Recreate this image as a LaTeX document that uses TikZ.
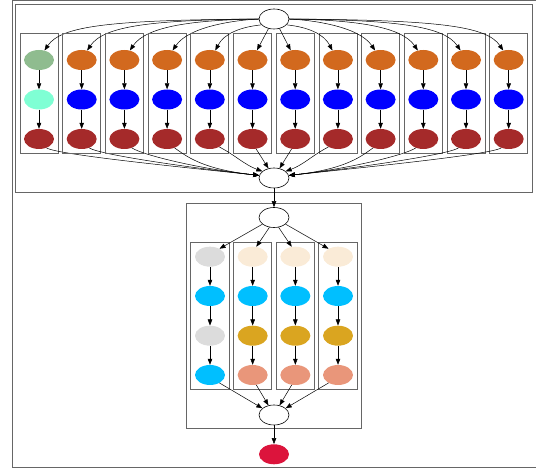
\documentclass[tikz,border=0pt]{standalone}
\usetikzlibrary{shapes.geometric,arrows.meta}
\definecolor{darkseagreen}{HTML}{8FBC8F}
\definecolor{aquamarine}{HTML}{7FFFD4}
\definecolor{firebrick}{HTML}{A52A2A}
\definecolor{chocolate}{HTML}{D2691E}
\definecolor{pureblue}{HTML}{0000FF}
\definecolor{gainsboro}{HTML}{DCDCDC}
\definecolor{deepskyblue}{HTML}{00BFFF}
\definecolor{antiquewhite}{HTML}{FAEBD7}
\definecolor{goldenrod}{HTML}{DAA520}
\definecolor{darksalmon}{HTML}{E9967A}
\definecolor{crimson}{HTML}{DC143C}
\begin{document}
\begin{tikzpicture}[x=1pt,y=-1pt,
  dot/.style={ellipse,minimum width=30pt,minimum height=20pt,inner sep=0pt,draw=none},
  hub/.style={ellipse,minimum width=30pt,minimum height=20pt,inner sep=0pt,draw=black,line width=0.6pt,fill=white},
  edge/.style={line width=0.5pt,-{Triangle[length=6pt,width=4.5pt]}},
  frame/.style={draw=black!60,line width=0.8pt}]
\useasboundingbox (0,0) rectangle (536,470);
% outer graph frame and first cluster
\draw[frame] (12,0.5) rectangle (540,467);
\draw[frame] (15,4.7) rectangle (532,192);
\node[hub] (top) at (274,19) {};
\node[hub] (join) at (274,178) {};
\foreach \i in {1,...,12} {
  \pgfmathsetmacro\xx{39+(\i-1)*42.7}
  \ifnum\i=1 \def\ca{darkseagreen}\def\cb{aquamarine}\else\def\ca{chocolate}\def\cb{pureblue}\fi
  \draw[frame] (\xx-19,33) rectangle (\xx+19,153);
  \node[dot,fill=\ca] (c\i-1) at (\xx,60) {};
  \node[dot,fill=\cb] (c\i-2) at (\xx,99.5) {};
  \node[dot,fill=firebrick] (c\i-3) at (\xx,139) {};
  \draw[edge] (c\i-1) -- (c\i-2);
  \draw[edge] (c\i-2) -- (c\i-3);
  % fan-out from the top hub
  \ifnum\i<5
    \draw[edge] (top.180) .. controls (\xx+70,20) and (\xx+22,26) .. (c\i-1.60);
    \draw[edge] (c\i-3.-50) .. controls (\xx+18,155) and (200,169) .. (join.170);
  \fi
  \ifnum\i=5
    \draw[edge] (top.205) .. controls (\xx+30,27) and (\xx+14,34) .. (c\i-1.60);
    \draw[edge] (c\i-3.-40) .. controls (\xx+25,155) and (245,165) .. (join.150);
  \fi
  \ifnum\i=6
    \draw[edge] (top.240) -- (c\i-1.65);
    \draw[edge] (c\i-3.-70) -- (join.120);
  \fi
  \ifnum\i=7
    \draw[edge] (top.300) -- (c\i-1.115);
    \draw[edge] (c\i-3.-110) -- (join.60);
  \fi
  \ifnum\i=8
    \draw[edge] (top.-25) .. controls (\xx-30,27) and (\xx-14,34) .. (c\i-1.120);
    \draw[edge] (c\i-3.-140) .. controls (\xx-25,155) and (303,165) .. (join.30);
  \fi
  \ifnum\i>8
    \draw[edge] (top.0) .. controls (\xx-70,20) and (\xx-22,26) .. (c\i-1.120);
    \draw[edge] (c\i-3.-130) .. controls (\xx-18,155) and (348,169) .. (join.10);
  \fi
}
% second cluster
\draw[frame] (186.7,203) rectangle (361.7,428);
\node[hub] (top2) at (274,217.5) {};
\node[hub] (join2) at (274,415) {};
\node[dot,fill=crimson] (fin) at (274,454.3) {};
\draw[edge] (join) -- (top2);
\draw[edge] (join2) -- (fin);
\foreach \j/\sa/\ea/\sb/\eb in {1/210/40/-40/150, 2/245/70/-70/120, 3/295/110/-110/60, 4/330/140/-140/30} {
  \pgfmathsetmacro\xx{210+(\j-1)*42.67}
  \ifnum\j=1
    \def\ca{gainsboro}\def\cb{deepskyblue}\def\cc{gainsboro}\def\cd{deepskyblue}
  \else
    \def\ca{antiquewhite}\def\cb{deepskyblue}\def\cc{goldenrod}\def\cd{darksalmon}
  \fi
  \draw[frame] (\xx-19.3,242.7) rectangle (\xx+19,389.3);
  \node[dot,fill=\ca] (d\j-1) at (\xx,256.7) {};
  \node[dot,fill=\cb] (d\j-2) at (\xx,296) {};
  \node[dot,fill=\cc] (d\j-3) at (\xx,335.7) {};
  \node[dot,fill=\cd] (d\j-4) at (\xx,375) {};
  \draw[edge] (d\j-1) -- (d\j-2);
  \draw[edge] (d\j-2) -- (d\j-3);
  \draw[edge] (d\j-3) -- (d\j-4);
  \draw[edge] (top2.\sa) -- (d\j-1.\ea);
  \draw[edge] (d\j-4.\sb) -- (join2.\eb);
}
\end{tikzpicture}
\end{document}
